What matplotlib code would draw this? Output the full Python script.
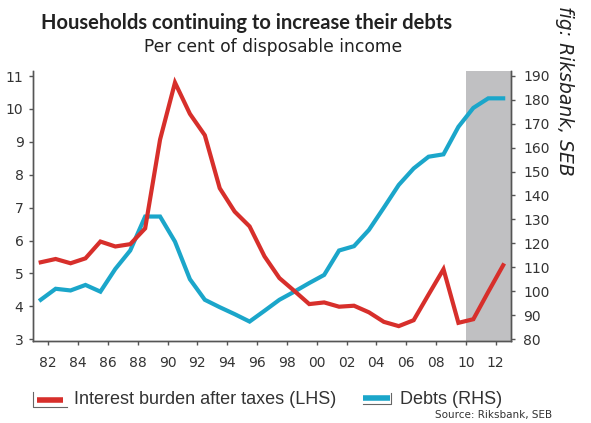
import numpy as np
import matplotlib
matplotlib.use("Agg")
import matplotlib.pyplot as plt
from matplotlib.lines import Line2D

# yearly observations, plotted at mid-year
years = np.arange(1981, 2013)
interest_burden = [5.34, 5.44, 5.31, 5.46, 5.97, 5.82, 5.89, 6.37, 9.07, 10.8,
                   9.85, 9.2, 7.59, 6.88, 6.43, 5.52, 4.86, 4.47, 4.07, 4.12,
                   3.99, 4.02, 3.82, 3.53, 3.40, 3.58, 4.36, 5.13, 3.50, 3.61,
                   4.44, 5.25]
debts = [96.4, 101.0, 100.3, 102.6, 99.8, 109.3, 117.0, 131.2, 131.2, 120.7,
         105.0, 96.4, 93.3, 90.4, 87.3, 91.8, 96.4, 99.8, 103.4, 106.8,
         117.0, 118.8, 125.6, 134.9, 144.4, 151.3, 156.2, 157.2, 168.7, 176.6,
         180.6, 180.6]
tick_years = np.arange(1982, 2013, 2)
tick_labels = ['%02d' % (y % 100) for y in tick_years]
forecast_start = 2010
series_names = ['Interest burden after taxes (LHS)', 'Debts (RHS)']

red = '#d72f2b'
blue = '#1ba6ca'
spine_col = '#555555'
txt_col = '#333333'

W, H = 591.0, 423.0
fig = plt.figure(figsize=(W / 100, H / 100), dpi=100)
ax = fig.add_axes([0.0563, 0.194, 0.8077, 0.638])
ax2 = ax.twinx()

# forecast shading, on the back axes so both lines sit on top of it
ax2.axvspan(forecast_start, 2013, color='#c0c0c2', lw=0, zorder=0)

x = years + 0.5
ax.plot(x, interest_burden, color=red, lw=3, solid_joinstyle='miter', zorder=3)
ax2.plot(x, debts, color=blue, lw=3, solid_joinstyle='miter', zorder=2)

# red line above the blue one
ax.set_zorder(ax2.get_zorder() + 1)
ax.patch.set_visible(False)

ax.set_xlim(1981, 2013)
ax.set_ylim(2.95, 11.15)
ax2.set_ylim(79.2, 192.0)
ax.set_yticks(range(3, 12))
ax2.set_yticks(range(80, 191, 10))
ax.set_xticks(tick_years)
ax.set_xticklabels(tick_labels)

for a in (ax, ax2):
    a.spines['top'].set_visible(False)
    for s in ('left', 'right', 'bottom'):
        a.spines[s].set_color(spine_col)
        a.spines[s].set_linewidth(1.0)
    a.tick_params(colors=spine_col, labelcolor=txt_col, length=3, width=1, labelsize=10)
ax.tick_params(axis='x', pad=8)
ax.tick_params(axis='y', pad=4)
ax2.tick_params(axis='y', pad=6)

fig.text(0.418, 0.945, 'Households continuing to increase their debts',
         ha='center', va='center', fontsize=14.5, fontweight='bold',
         family='Lato', color='#222222')
fig.text(0.462, 0.888, 'Per cent of disposable income',
         ha='center', va='center', fontsize=12.3, color='#222222')
fig.text(0.956, 0.785, 'fig: Riksbank, SEB', rotation=-90, ha='center', va='center',
         fontsize=13.5, style='italic', color='#222222')


# legend, drawn by hand to copy the bracketed swatches of the original
def fx(px):
    return px / W


def fy(py):
    return 1 - py / H


brk = dict(color='#666666', lw=0.8)
fig.add_artist(Line2D([fx(37), fx(63)], [fy(400), fy(400)], color=red, lw=4,
                      solid_capstyle='butt'))
fig.add_artist(Line2D([fx(32.5), fx(32.5), fx(67)], [fy(392), fy(407), fy(407)], **brk))
fig.text(fx(74), fy(399), series_names[0], ha='left', va='center',
         family='Liberation Sans', fontsize=13, color=txt_col)

fig.add_artist(Line2D([fx(363), fx(390)], [fy(398), fy(398)], color=blue, lw=4,
                      solid_capstyle='butt'))
fig.add_artist(Line2D([fx(363), fx(391), fx(391)], [fy(404), fy(404), fy(393)], **brk))
fig.text(fx(400), fy(399), series_names[1], ha='left', va='center',
         family='Liberation Sans', fontsize=13, color=txt_col)

fig.text(0.935, 0.018, 'Source: Riksbank, SEB', ha='right', va='center',
         fontsize=7.5, color=txt_col)

fig.savefig('out.png', dpi=100)
